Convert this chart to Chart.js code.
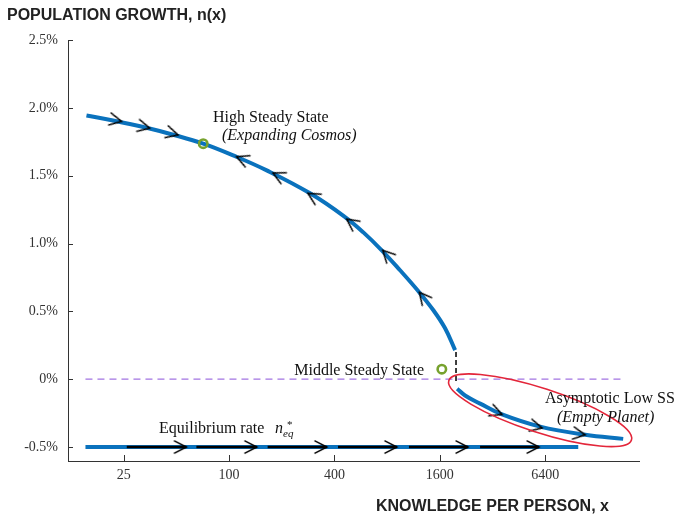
<!DOCTYPE html>
<html>
<head>
<meta charset="utf-8">
<script src="https://cdn.jsdelivr.net/npm/chart.js@4.4.1/dist/chart.umd.min.js"></script>
<style>
  html, body { margin: 0; padding: 0; background: #fff; }
  #growth-chart { display: block; }
</style>
</head>
<body>
<canvas id="growth-chart" width="679" height="515"></canvas>
<script>
// upper branch of n(x) (x = knowledge per person, y = %)
const upperX = [15.3, 21.7, 33.7, 47.9, 71.1, 105.5, 164, 290, 460, 585, 745, 948, 1207, 1470, 1715, 1957];
const upperY = [1.944, 1.907, 1.853, 1.802, 1.736, 1.649, 1.539, 1.370, 1.195, 1.082, 0.950, 0.803, 0.648, 0.508, 0.375, 0.214];

// lower branch, heading to the empty planet
const lowerX = [2010, 2230, 2720, 3630, 5990, 10840, 17870];
const lowerY = [-0.07, -0.12, -0.18, -0.26, -0.35, -0.41, -0.44];

// equilibrium rate line and its arrows
const eqRate = -0.5;
const eqLineX = [15.1, 9890];
const eqArrowStart = [26, 65, 166, 419, 1066, 2717];
const eqArrowTip = [57, 144, 362, 910, 2320, 5907];

// zero growth line
const zeroLineX = [15.1, 17870];

// steady states
const steadyX = [71.1, 1643];
const steadyY = [1.736, 0.074];

// gap between the branches
const gapX = 1980;
const gapY = [0.20, -0.03];

// flow arrows on the branches (1 = to the right, -1 = to the left)
const upperArrowX = [24.3, 35.2, 51.1, 110.3, 178, 282, 470, 755, 1222];
const upperArrowY = [1.90, 1.85, 1.80, 1.64, 1.52, 1.37, 1.18, 0.95, 0.64];
const upperArrowDir = [1, 1, 1, -1, -1, -1, -1, -1, -1];
const lowerArrowX = [3630, 6150, 10840];
const lowerArrowY = [-0.26, -0.36, -0.41];

const xTicks = [25, 100, 400, 1600, 6400];
const yTicks = [-0.5, 0, 0.5, 1, 1.5, 2, 2.5];

const BLUE = '#0a72bd';
const SERIF = '"Liberation Serif", "Times New Roman", serif';
const SANS = '"Liberation Sans", Arial, sans-serif';

function pts(xs, ys) {
    return xs.map((x, i) => ({x: x, y: ys[i]}));
}

function makeChevron() {
    const c = document.createElement('canvas');
    c.width = 34; c.height = 34;
    const g = c.getContext('2d');
    const L = 14, a = 27 * Math.PI / 180;
    g.strokeStyle = '#000';
    g.lineWidth = 1.5;
    g.beginPath();
    g.moveTo(17 - L * Math.cos(a), 17 - L * Math.sin(a));
    g.lineTo(17, 17);
    g.lineTo(17 - L * Math.cos(a), 17 + L * Math.sin(a));
    g.stroke();
    return c;
}
const chevron = makeChevron();

// angle of the curve (in pixels) around the arrow
function curveAngle(chart, cx, cy, ax) {
    const sx = chart.scales.x, sy = chart.scales.y;
    let j = 0, best = Infinity;
    cx.forEach((v, i) => {
        const d = Math.abs(Math.log(v) - Math.log(ax));
        if (d < best) { best = d; j = i; }
    });
    const i0 = Math.max(0, j - 1), i1 = Math.min(cx.length - 1, j + 1);
    const dx = sx.getPixelForValue(cx[i1]) - sx.getPixelForValue(cx[i0]);
    const dy = sy.getPixelForValue(cy[i1]) - sy.getPixelForValue(cy[i0]);
    return Math.atan2(dy, dx) * 180 / Math.PI;
}

const eqSegments = [];
eqArrowStart.forEach((s, i) => {
    eqSegments.push({x: s, y: eqRate}, {x: eqArrowTip[i], y: eqRate}, {x: eqArrowTip[i], y: null});
});

const axisTicks = {
    id: 'axisTicks',
    afterDraw(chart) {
        const g = chart.ctx, sx = chart.scales.x, sy = chart.scales.y;
        const a = chart.chartArea;
        g.save();
        g.strokeStyle = '#333';
        g.lineWidth = 1;
        g.beginPath();
        xTicks.forEach(v => {
            const p = Math.round(sx.getPixelForValue(v)) + 0.5;
            g.moveTo(p, a.bottom); g.lineTo(p, a.bottom - 6);
        });
        yTicks.forEach(v => {
            const p = Math.round(sy.getPixelForValue(v)) + 0.5;
            g.moveTo(a.left, p); g.lineTo(a.left + 5, p);
        });
        g.stroke();
        g.restore();
    }
};

const emptyPlanetRing = {
    id: 'emptyPlanetRing',
    afterDatasetsDraw(chart) {
        const g = chart.ctx;
        const cx = chart.scales.x.getPixelForValue(5990);
        const cy = chart.scales.y.getPixelForValue(-0.229);
        g.save();
        g.strokeStyle = '#e3263a';
        g.lineWidth = 1.6;
        g.beginPath();
        g.ellipse(cx, cy, 96, 22, 18 * Math.PI / 180, 0, 2 * Math.PI);
        g.stroke();
        g.restore();
    }
};

const notes = {
    id: 'notes',
    afterDraw(chart) {
        const g = chart.ctx;
        g.save();
        g.fillStyle = '#222';
        g.textBaseline = 'alphabetic';
        g.font = 'bold 16px ' + SANS;
        g.fillText('POPULATION GROWTH, n(x)', 7, 20);
        g.fillText('KNOWLEDGE PER PERSON, x', 376, 511);

        g.fillStyle = '#111';
        g.font = '16px ' + SERIF;
        g.fillText('High Steady State', 213, 122);
        g.fillText('Asymptotic Low SS', 545, 403);
        g.fillText('Equilibrium rate', 159, 433);
        g.textAlign = 'right';
        g.fillText('Middle Steady State', 424, 375);
        g.textAlign = 'left';
        g.font = 'italic 16px ' + SERIF;
        g.fillText('(Expanding Cosmos)', 222, 140);
        g.fillText('(Empty Planet)', 557, 422);
        g.fillText('n', 275, 433);
        g.font = 'italic 11px ' + SERIF;
        g.fillText('eq', 283, 437);
        g.font = '11px ' + SERIF;
        g.fillText('*', 287, 428);
        g.restore();
    }
};

const ctx = document.getElementById('growth-chart').getContext('2d');

new Chart(ctx, {
    type: 'line',
    data: {
        datasets: [
            {
                data: pts(zeroLineX, [0, 0]),
                borderColor: '#a274e2', borderWidth: 1.2, borderDash: [7, 5],
                pointRadius: 0, order: 6
            },
            {
                data: pts(eqLineX, [eqRate, eqRate]),
                borderColor: BLUE, borderWidth: 4, pointRadius: 0, order: 5
            },
            {
                data: eqSegments,
                borderColor: '#000', borderWidth: 2.4, pointRadius: 0, spanGaps: false, order: 4
            },
            {
                data: pts(upperX, upperY),
                borderColor: BLUE, borderWidth: 4, pointRadius: 0,
                tension: 0.4, order: 5
            },
            {
                data: pts(lowerX, lowerY),
                borderColor: BLUE, borderWidth: 4, pointRadius: 0,
                tension: 0.4, order: 5
            },
            {
                data: pts([gapX, gapX], gapY),
                borderColor: '#000', borderWidth: 1.5, borderDash: [5, 3],
                pointRadius: 0, order: 4
            },
            {
                data: pts(steadyX, steadyY),
                showLine: false, pointStyle: 'circle', pointRadius: 4.2,
                pointBorderWidth: 2.6, pointBorderColor: '#77a22e',
                pointBackgroundColor: 'rgba(0,0,0,0)', order: 1
            },
            {
                data: pts(upperArrowX, upperArrowY),
                showLine: false, pointStyle: chevron, pointRadius: 5, order: 0,
                rotation: (c) => curveAngle(c.chart, upperX, upperY, upperArrowX[c.dataIndex]) +
                    (upperArrowDir[c.dataIndex] < 0 ? 180 : 0)
            },
            {
                data: pts(lowerArrowX, lowerArrowY),
                showLine: false, pointStyle: chevron, pointRadius: 5, order: 0,
                rotation: (c) => curveAngle(c.chart, lowerX, lowerY, lowerArrowX[c.dataIndex])
            },
            {
                data: pts(eqArrowTip, eqArrowTip.map(() => eqRate)),
                showLine: false, pointStyle: chevron, pointRadius: 5, order: 0
            }
        ]
    },
    options: {
        responsive: false,
        animation: false,
        layout: { padding: { left: 0, top: 40, right: 40, bottom: 0 } },
        plugins: { legend: { display: false }, tooltip: { enabled: false } },
        scales: {
            x: {
                type: 'logarithmic', min: 12, max: 22000,
                afterBuildTicks: (s) => { s.ticks = xTicks.map(v => ({value: v})); },
                afterFit: (s) => { s.height = 54; },
                grid: { display: false, drawTicks: false },
                border: { display: true, color: '#333', width: 1 },
                ticks: {
                    padding: 6, color: '#333', autoSkip: false, maxRotation: 0,
                    font: { family: SERIF, size: 14 },
                    callback: (v) => String(v)
                }
            },
            y: {
                type: 'linear', min: -0.603, max: 2.5,
                afterBuildTicks: (s) => { s.ticks = yTicks.map(v => ({value: v})); },
                afterFit: (s) => { s.width = 68; },
                grid: { display: false, drawTicks: false },
                border: { display: true, color: '#333', width: 1 },
                ticks: {
                    padding: 10, color: '#333',
                    font: { family: SERIF, size: 14 },
                    callback: (v) => v === 0 ? '0%' : v.toFixed(1) + '%'
                }
            }
        }
    },
    plugins: [axisTicks, emptyPlanetRing, notes]
});
</script>
</body>
</html>
